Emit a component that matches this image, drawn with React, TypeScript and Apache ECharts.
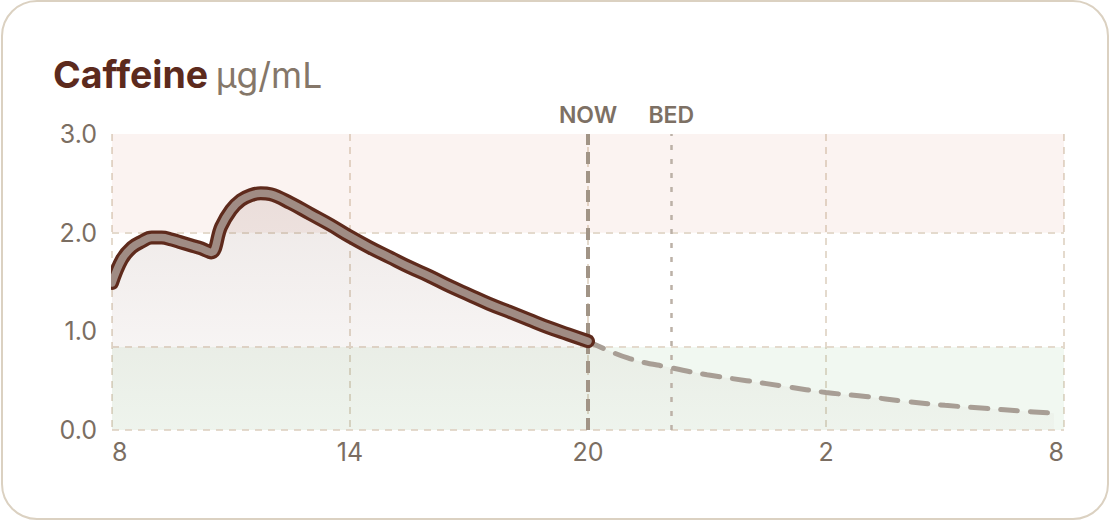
import React, { useEffect, useRef } from "react";
import * as echarts from "echarts";

// clock hours (8 = 8:00 today, 32 = 8:00 tomorrow)
const startHour = 8;
const solidHours = [8, 8.25, 8.5, 8.75, 9, 9.25, 9.5, 9.75, 10, 10.25, 10.5, 10.75, 11, 11.25, 11.5, 11.75, 12, 12.5, 13, 13.5, 14, 14.5, 15, 15.5, 16, 16.5, 17, 17.5, 18, 18.5, 19, 19.5, 20];
const solidValues = [1.49, 1.73, 1.85, 1.91, 1.95, 1.95, 1.93, 1.9, 1.87, 1.84, 1.8, 2.06, 2.23, 2.33, 2.38, 2.4, 2.39, 2.3, 2.19, 2.08, 1.96, 1.85, 1.75, 1.65, 1.56, 1.46, 1.37, 1.28, 1.2, 1.12, 1.04, 0.97, 0.9];
const projHours = [20, 21, 22.1, 23, 24, 25, 26, 27, 28, 29, 30, 31, 31.75];
const projValues = [0.9, 0.73, 0.63, 0.56, 0.5, 0.44, 0.38, 0.34, 0.29, 0.25, 0.22, 0.19, 0.17];
const xTickLabels = ["8", "14", "20", "2", "8"];
const highBand = [2, 3];
const lowBand = [0, 0.84];
const nowHour = 20;
const bedHour = 22.1;

const FONT = "Inter, 'Noto Sans', sans-serif";
const GRID_DASH = { color: "#e4dacd", width: 2, type: [7, 6] as number[] };

export default function App() {
  const ref = useRef<HTMLDivElement>(null);
  useEffect(() => {
    const chart = echarts.init(ref.current!, null, { renderer: "svg" });
    const toPts = (hs: number[], vs: number[]) => hs.map((h, i) => [h - startHour, vs[i]]);
    const solid = toPts(solidHours, solidValues);
    const proj = toPts(projHours, projValues);
    const all = solid.concat(proj.slice(1));
    const nowX = nowHour - startHour;
    const bedX = bedHour - startHour;
    const smooth = 0.4;

    const markLabel = (text: string) => ({
      show: true,
      position: "end",
      formatter: text,
      color: "#7d7064",
      fontSize: 23,
      fontWeight: 600,
      fontFamily: FONT,
      distance: 8,
    });

    chart.setOption({
      animation: false,
      title: {
        left: 48,
        top: 50,
        text: "{a|Caffeine} {b|µg/mL}",
        textStyle: {
          fontSize: 32,
          fontFamily: FONT,
          rich: {
            a: { fontSize: 37.5, fontWeight: 700, color: "#5c2a1d", fontFamily: FONT, verticalAlign: "bottom" },
            b: { fontSize: 35.5, fontWeight: 400, color: "#857769", fontFamily: FONT, verticalAlign: "bottom" },
          },
        },
      },
      grid: { left: 112, right: 46, top: 134, bottom: 92, containLabel: false },
      xAxis: {
        type: "value",
        min: 0,
        max: 24,
        interval: 6,
        axisLine: { show: false },
        axisTick: { show: false },
        splitLine: { show: true, lineStyle: GRID_DASH },
        axisLabel: {
          color: "#7b6e62",
          fontSize: 25,
          fontFamily: FONT,
          margin: 9,
          alignMinLabel: "left",
          alignMaxLabel: "right",
          formatter: (v: number) => xTickLabels[Math.round(v / 6)],
        },
      },
      yAxis: {
        type: "value",
        min: 0,
        max: 3,
        interval: 1,
        axisLine: { show: false },
        axisTick: { show: false },
        splitLine: { show: false },
        axisLabel: {
          color: "#7b6e62",
          fontSize: 25,
          fontFamily: FONT,
          margin: 15,
          formatter: (v: number) => v.toFixed(1),
        },
      },
      series: [
        {
          name: "area",
          type: "line",
          data: all,
          smooth,
          showSymbol: false,
          symbol: "none",
          lineStyle: { width: 0 },
          z: 2,
          areaStyle: {
            color: new echarts.graphic.LinearGradient(0, 0, 0, 1, [
              { offset: 0, color: "rgba(94,42,28,0.15)" },
              { offset: 1, color: "rgba(94,42,28,0.03)" },
            ]),
          },
          markArea: {
            silent: true,
            z: 1,
            data: [
              [
                { yAxis: highBand[0], itemStyle: { color: "rgba(215,120,100,0.09)" } },
                { yAxis: highBand[1] },
              ],
              [
                { yAxis: lowBand[0], itemStyle: { color: "rgba(120,185,120,0.1)" } },
                { yAxis: lowBand[1] },
              ],
            ],
          },
          markLine: {
            silent: true,
            z: 1.5,
            symbol: "none",
            label: { show: false },
            lineStyle: GRID_DASH,
            data: [{ yAxis: 0 }, { yAxis: lowBand[1] }, { yAxis: highBand[0] }],
          },
        },
        {
          name: "markers",
          type: "line",
          data: [],
          markLine: {
            silent: true,
            z: 2.5,
            symbol: "none",
            data: [
              [
                {
                  coord: [nowX, 0],
                  lineStyle: { color: "#a19486", width: 4, type: [12, 7] },
                  label: markLabel("NOW"),
                },
                { coord: [nowX, 3] },
              ],
              [
                {
                  coord: [bedX, 0],
                  lineStyle: { color: "#bcb1a7", width: 2.5, type: [5, 9] },
                  label: markLabel("BED"),
                },
                { coord: [bedX, 3] },
              ],
            ],
          },
        },
        {
          name: "projection",
          type: "line",
          data: proj,
          smooth,
          showSymbol: false,
          symbol: "none",
          z: 3,
          lineStyle: { color: "#a89e95", width: 5, type: [17, 13], cap: "round" },
        },
        {
          name: "outline",
          type: "line",
          data: solid,
          smooth,
          showSymbol: false,
          symbol: "none",
          z: 4,
          lineStyle: { color: "#5e2a1c", width: 14, cap: "round", join: "round" },
        },
        {
          name: "inner",
          type: "line",
          data: solid,
          smooth,
          showSymbol: false,
          symbol: "none",
          z: 5,
          lineStyle: { color: "#a08c84", width: 7.5, cap: "round", join: "round" },
        },
      ],
    });

    // mask the part of the thick line that spills left of the plot edge
    const tl = chart.convertToPixel({ gridIndex: 0 }, [0, 3]) as number[];
    const bl = chart.convertToPixel({ gridIndex: 0 }, [0, 0]) as number[];
    chart.setOption({
      graphic: [
        {
          type: "rect",
          silent: true,
          z: 100,
          shape: { x: tl[0] - 11, y: tl[1] - 10, width: 10, height: bl[1] - tl[1] + 20 },
          style: { fill: "#ffffff" },
        },
      ],
    });

    return () => chart.dispose();
  }, []);

  return (
    <div style={{ position: "fixed", left: 0, top: 0, width: 1110, height: 522, background: "#ffffff" }}>
      <div
        style={{
          position: "absolute",
          left: 1,
          top: 0,
          width: 1108,
          height: 520,
          boxSizing: "border-box",
          border: "2px solid #dbd1c1",
          borderRadius: 36,
          background: "#ffffff",
        }}
      />
      <div ref={ref} style={{ position: "absolute", left: 0, top: 0, width: 1110, height: 522 }} />
    </div>
  );
}
